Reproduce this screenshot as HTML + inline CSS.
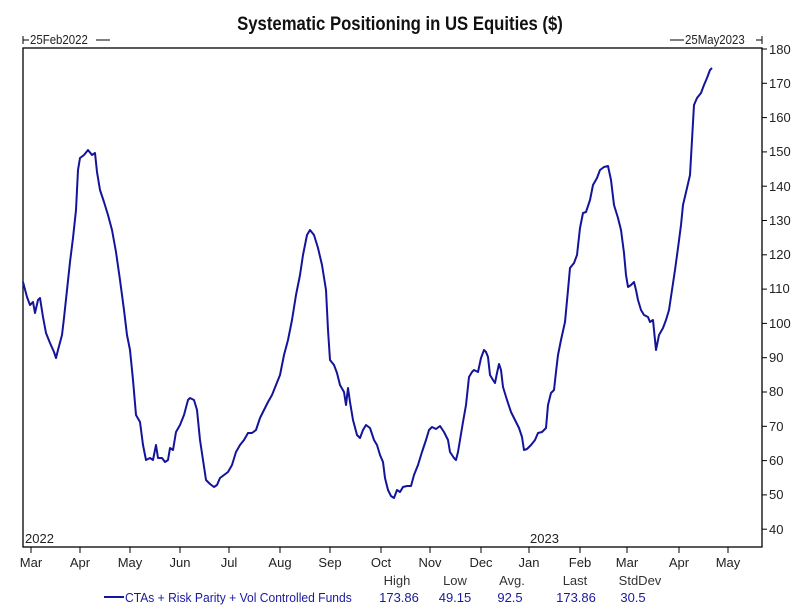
<!DOCTYPE html>
<html><head><meta charset="utf-8"><style>
html,body{margin:0;padding:0;background:#fff}
svg{display:block}
text{font-family:"Liberation Sans",Arial,sans-serif}
</style></head><body>
<svg width="807" height="613" viewBox="0 0 807 613">
<rect width="807" height="613" fill="#fff"/>
<text x="400" y="30" text-anchor="middle" font-size="19" font-weight="bold" fill="#111" transform="translate(400,0) scale(0.88,1) translate(-400,0)">Systematic Positioning in US Equities ($)</text>
<g font-size="13" fill="#222">
<text x="30" y="44" transform="translate(30,0) scale(0.88,1) translate(-30,0)">25Feb2022</text>
<line x1="23" y1="36" x2="23" y2="44" stroke="#000"/><line x1="23" y1="40" x2="29" y2="40" stroke="#000"/>
<line x1="96" y1="40" x2="110" y2="40" stroke="#000"/>
<line x1="670" y1="40" x2="684" y2="40" stroke="#000"/>
<text x="685" y="44" transform="translate(685,0) scale(0.88,1) translate(-685,0)">25May2023</text>
<line x1="756" y1="40" x2="762" y2="40" stroke="#000"/><line x1="762" y1="36" x2="762" y2="44" stroke="#000"/>
</g>
<rect x="23" y="48" width="739" height="499" fill="none" stroke="#000" stroke-width="1.3"/>
<g font-size="13" fill="#222" stroke="none">
<g stroke="#000">
<line x1="762" y1="49" x2="767" y2="49"/><line x1="762" y1="83.3" x2="767" y2="83.3"/><line x1="762" y1="117.6" x2="767" y2="117.6"/><line x1="762" y1="151.9" x2="767" y2="151.9"/><line x1="762" y1="186.2" x2="767" y2="186.2"/><line x1="762" y1="220.5" x2="767" y2="220.5"/><line x1="762" y1="254.8" x2="767" y2="254.8"/><line x1="762" y1="289.1" x2="767" y2="289.1"/><line x1="762" y1="323.4" x2="767" y2="323.4"/><line x1="762" y1="357.7" x2="767" y2="357.7"/><line x1="762" y1="392" x2="767" y2="392"/><line x1="762" y1="426.3" x2="767" y2="426.3"/><line x1="762" y1="460.6" x2="767" y2="460.6"/><line x1="762" y1="494.9" x2="767" y2="494.9"/><line x1="762" y1="529.2" x2="767" y2="529.2"/>
</g>
<text x="769" y="54">180</text><text x="769" y="88">170</text><text x="769" y="122">160</text><text x="769" y="156">150</text><text x="769" y="191">140</text><text x="769" y="225">130</text><text x="769" y="259">120</text><text x="769" y="293">110</text><text x="769" y="328">100</text><text x="769" y="362">90</text><text x="769" y="396">80</text><text x="769" y="431">70</text><text x="769" y="465">60</text><text x="769" y="499">50</text><text x="769" y="534">40</text>
<text x="25" y="543">2022</text><text x="530" y="543">2023</text>
<g stroke="#000">
<line x1="31" y1="547" x2="31" y2="553"/><line x1="80" y1="547" x2="80" y2="553"/><line x1="130" y1="547" x2="130" y2="553"/><line x1="180" y1="547" x2="180" y2="553"/><line x1="229" y1="547" x2="229" y2="553"/><line x1="280" y1="547" x2="280" y2="553"/><line x1="330" y1="547" x2="330" y2="553"/><line x1="381" y1="547" x2="381" y2="553"/><line x1="430" y1="547" x2="430" y2="553"/><line x1="481" y1="547" x2="481" y2="553"/><line x1="529" y1="547" x2="529" y2="553"/><line x1="580" y1="547" x2="580" y2="553"/><line x1="627" y1="547" x2="627" y2="553"/><line x1="679" y1="547" x2="679" y2="553"/><line x1="728" y1="547" x2="728" y2="553"/>
</g>
<g text-anchor="middle">
<text x="31" y="567">Mar</text><text x="80" y="567">Apr</text><text x="130" y="567">May</text><text x="180" y="567">Jun</text><text x="229" y="567">Jul</text><text x="280" y="567">Aug</text><text x="330" y="567">Sep</text><text x="381" y="567">Oct</text><text x="430" y="567">Nov</text><text x="481" y="567">Dec</text><text x="529" y="567">Jan</text><text x="580" y="567">Feb</text><text x="627" y="567">Mar</text><text x="679" y="567">Apr</text><text x="728" y="567">May</text>
</g>
<g text-anchor="middle" fill="#333">
<text x="397" y="585">High</text><text x="455" y="585">Low</text><text x="512" y="585">Avg.</text><text x="575" y="585">Last</text><text x="640" y="585">StdDev</text>
</g>
<g fill="#1a1aa0">
<line x1="104" y1="597" x2="124" y2="597" stroke="#1414a0" stroke-width="2"/>
<text x="125" y="602" transform="translate(125,0) scale(0.93,1) translate(-125,0)">CTAs + Risk Parity + Vol Controlled Funds</text>
<text x="399" y="602" text-anchor="middle">173.86</text><text x="455" y="602" text-anchor="middle">49.15</text><text x="510" y="602" text-anchor="middle">92.5</text><text x="576" y="602" text-anchor="middle">173.86</text><text x="633" y="602" text-anchor="middle">30.5</text>
</g>
</g>
<polyline fill="none" stroke="#14149a" stroke-width="2" stroke-linejoin="round" points="23,282 27,297 30,305 33,302 35,313 38,300 40,298 43,317 46,333 50,343 54,352 56,358 58,350 62,335 64,318 67,290 70,262 73,238 76,210 78,170 80,158 84,155 88,150 92,155 95,153 97,172 100,190 104,202 108,215 112,230 116,252 120,280 124,310 127,335 130,350 133,380 136,415 140,422 143,445 146,460 150,458 153,460 156,445 158,458 162,458 165,462 168,460 170,448 173,450 176,432 180,425 184,415 188,400 190,398 194,400 197,410 200,440 203,460 206,480 210,484 214,487 217,485 220,478 224,475 228,472 232,465 236,452 240,445 244,440 248,433 252,433 256,430 260,418 264,410 268,402 272,395 276,385 280,375 284,355 288,340 292,320 296,295 300,275 303,255 307,235 310,230 314,235 318,248 322,265 326,290 328,330 330,360 334,365 337,373 340,385 344,392 346,405 348,388 350,402 353,420 357,435 360,438 363,430 366,425 370,428 374,440 377,445 380,455 383,462 385,478 388,490 391,496 394,498 397,490 400,492 403,487 407,486 411,486 414,475 418,465 422,452 426,440 429,430 432,427 436,429 440,426 444,432 448,440 450,452 454,458 456,460 458,452 460,440 463,422 466,405 469,377 472,372 474,370 478,372 481,358 484,350 486,352 488,357 490,375 493,380 495,383 497,373 499,364 501,370 503,387 507,400 511,412 515,420 519,428 522,437 524,450 527,449 531,445 535,440 538,433 542,432 546,428 548,405 551,393 554,390 556,372 558,355 561,340 565,322 568,290 570,268 574,263 577,255 580,228 583,213 586,212 590,200 593,185 597,178 600,170 604,167 608,166 611,180 614,205 618,218 621,230 624,253 626,275 628,287 631,285 634,282 636,290 638,300 641,310 644,315 648,317 650,322 653,320 656,350 659,335 663,328 666,320 669,310 672,290 675,270 678,248 681,225 683,205 687,188 690,175 692,140 694,105 697,98 701,93 704,85 707,78 710,70 712,68"/>
</svg>
</body></html>
